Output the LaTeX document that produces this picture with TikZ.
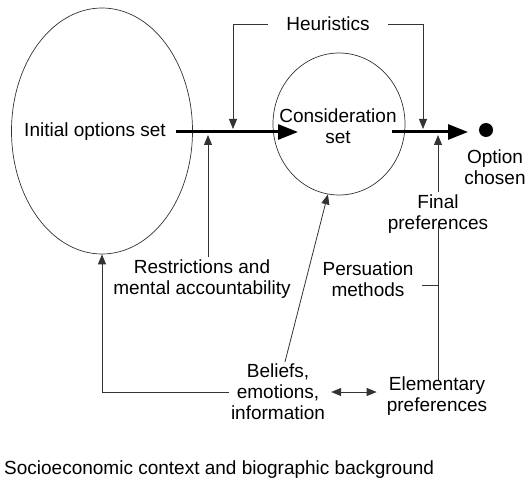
\documentclass[tikz,border=0pt]{standalone}
\usepackage{fontspec}
\setmainfont{Liberation Sans}
\usetikzlibrary{shapes,arrows.meta,positioning,calc}

\tikzset{
    lbl/.style={font=\fontsize{19}{21}\selectfont, align=center, inner sep=2pt},
    link/.style={draw=black!80, line width=0.8pt, -{Triangle[length=10pt,width=8pt]}},
    plainlink/.style={draw=black!80, line width=0.8pt},
    flow/.style={draw=black, line width=3pt, -{Triangle[length=20pt,width=15pt]}},
    setshape/.style={draw=black!80, ellipse, line width=0.7pt, inner sep=0pt}
}

\begin{document}
\begin{tikzpicture}[x=1pt,y=-1pt]
    \useasboundingbox (0,0) rectangle (530,481);

    % Sets
    \node[setshape, minimum width=181pt, minimum height=246pt] (initset) at (102,131) {};
    \node[lbl] (initial) at (95,132) {Initial options set};
    \node[setshape, minimum width=132pt, minimum height=142pt] (consid) at (339,124) {};
    \node[lbl] (considtxt) at (338,126) {Consideration\\set};
    \node[circle, fill=black, minimum size=14pt, inner sep=0pt] (dot) at (486,130) {};
    \node[lbl] (chosen) at (495,167) {Option\\chosen};

    % Influences
    \node[lbl, inner xsep=18pt] (heur) at (328,24) {Heuristics};
    \node[lbl] (restr) at (202,279) {Restrictions and\\mental accountability};
    \node[lbl] (final) at (438,214) {Final\\preferences};
    \node[lbl] (persu) at (368,279) {Persuation\\methods};
    \node[lbl] (beliefs) at (278,392) {Beliefs,\\emotions,\\information};
    \node[lbl] (elem) at (437,396) {Elementary\\preferences};
    \node[lbl, anchor=west] (context) at (2,470) {Socioeconomic context and biographic background};

    % Points on the main flow
    \coordinate (h1) at (233,129);
    \coordinate (h2) at (423,129);
    \coordinate (r1) at (208,135);
    \coordinate (f1) at (438,135);
    \coordinate (t1) at (298,132);
    \coordinate (t2) at (468,132);

    % Main flow
    \draw[flow] ([xshift=8pt]initial.east) -- (t1);
    \draw[flow] (392,132) -- (t2);

    % Heuristics
    \draw[link] (heur.west) -| (h1);
    \draw[link] (heur.east) -| (h2);

    % Restrictions, preferences, beliefs
    \draw[link] (r1 |- restr.north) -- (r1);
    \draw[link] (f1 |- final.north) -- (f1);
    \draw[plainlink] ([yshift=-6pt]elem.north -| f1) -- ([yshift=10pt]final.south -| f1);
    \draw[plainlink] ([xshift=6pt,yshift=-6pt]persu.east) -- ([yshift=-6pt]persu.east -| f1);
    \draw[link] ([xshift=7pt]beliefs.north) -- (consid.-99);
    \draw[link] (beliefs.west) -| (initset.south);
    \draw[draw=black!80, line width=0.8pt, {Triangle[length=10pt,width=8pt]}-{Triangle[length=10pt,width=8pt]},
          shorten <=4pt, shorten >=8pt] (beliefs.east) -- (beliefs.east -| elem.west);
\end{tikzpicture}
\end{document}
